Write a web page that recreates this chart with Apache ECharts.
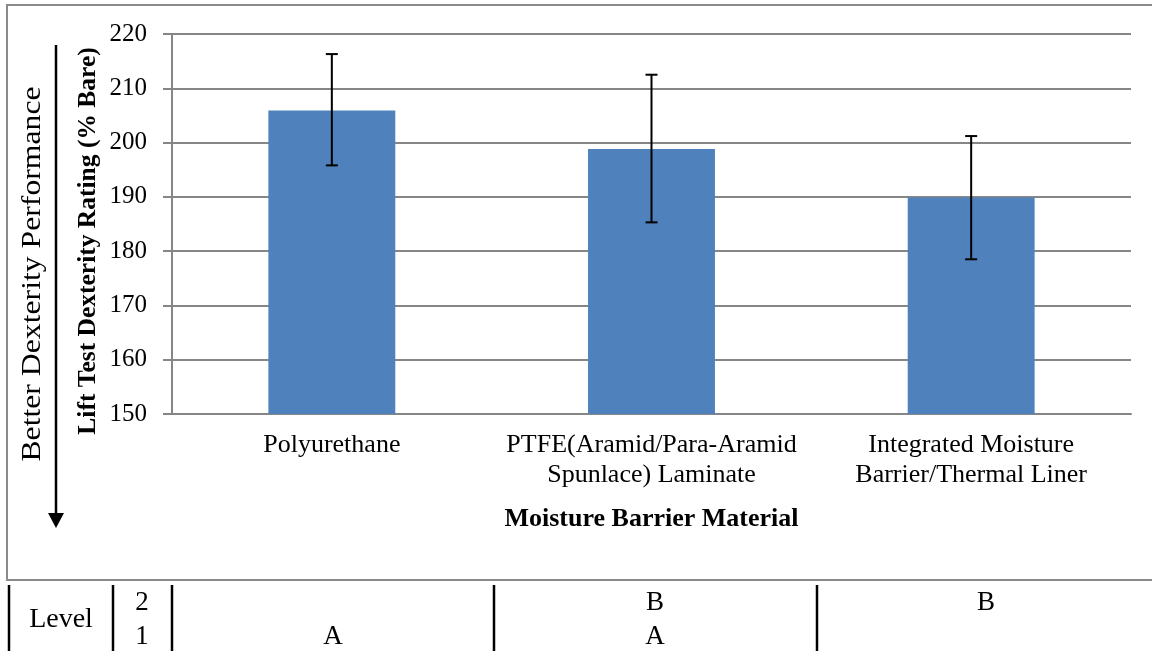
<!DOCTYPE html>
<html>
<head>
<meta charset="utf-8">
<script src="https://cdn.jsdelivr.net/npm/echarts@6/dist/echarts.min.js"></script>
<style>
html,body{margin:0;padding:0;background:#fff;}
#c{width:1152px;height:651px;}
</style>
</head>
<body>
<div id="c"></div>
<script>
const categories = ['Polyurethane', 'PTFE(Aramid/Para-Aramid\nSpunlace) Laminate', 'Integrated Moisture\nBarrier/Thermal Liner'];
const ratings = [205.9, 198.8, 189.9];
const errLow = [195.8, 185.3, 178.5];
const errHigh = [216.3, 212.5, 201.2];
const yTicks = [150, 160, 170, 180, 190, 200, 210, 220];
const levelNames = ['2', '1'];
const level2Letters = ['', 'B', 'B'];
const level1Letters = ['A', 'A', ''];

const FONT = '"Liberation Serif", "Times New Roman", serif';
const chart = echarts.init(document.getElementById('c'));

const colX = [9, 113, 172, 494, 817];
const colCenters = [333, 655, 986];
const tableTop = 585, tableBottom = 660;
const graphics = [];
// outer chart border
graphics.push({type:'rect', shape:{x:7, y:5, width:1160, height:575}, style:{fill:'none', stroke:'#8a8a8a', lineWidth:2}, z:-1});
// table verticals
colX.forEach(x => graphics.push({type:'line', shape:{x1:x, y1:tableTop, x2:x, y2:tableBottom}, style:{stroke:'#000', lineWidth:2.5}}));
const tf = '27px ' + FONT;
graphics.push({type:'text', x:61, y:620, style:{text:'Level', font:'28px ' + FONT, fill:'#000', align:'center', verticalAlign:'middle'}});
graphics.push({type:'text', x:142, y:603, style:{text:levelNames[0], font:tf, fill:'#000', align:'center', verticalAlign:'middle'}});
graphics.push({type:'text', x:142, y:637, style:{text:levelNames[1], font:tf, fill:'#000', align:'center', verticalAlign:'middle'}});
colCenters.forEach((cx, i) => {
  if (level2Letters[i]) graphics.push({type:'text', x:cx, y:603, style:{text:level2Letters[i], font:tf, fill:'#000', align:'center', verticalAlign:'middle'}});
  if (level1Letters[i]) graphics.push({type:'text', x:cx, y:637, style:{text:level1Letters[i], font:tf, fill:'#000', align:'center', verticalAlign:'middle'}});
});
// left side annotation
graphics.push({type:'text', x:33, y:274, rotation:Math.PI/2, scaleX:1.22, scaleY:1.05,
  style:{text:'Better Dexterity Performance', font:'26px ' + FONT, fill:'#000', align:'center', verticalAlign:'middle'}});
graphics.push({type:'line', shape:{x1:56, y1:45, x2:56, y2:516}, style:{stroke:'#000', lineWidth:2.5}});
graphics.push({type:'polygon', shape:{points:[[48,513],[64,513],[56,528]]}, style:{fill:'#000'}});
// y axis title
graphics.push({type:'text', x:88, y:241, rotation:Math.PI/2,
  style:{text:'Lift Test Dexterity Rating (% Bare)', font:'bold 25.5px ' + FONT, fill:'#000', align:'center', verticalAlign:'middle'}});

chart.setOption({
  animation:false,
  backgroundColor:'#fff',
  grid:{left:172, right:21, top:34, bottom:237},
  xAxis:{
    type:'category', data:categories,
    axisLine:{show:true, lineStyle:{color:'#868686', width:2}},
    axisTick:{show:false},
    axisLabel:{color:'#000', fontFamily:FONT, fontSize:26, lineHeight:30, margin:16, interval:0},
    name:'Moisture Barrier Material', nameLocation:'middle', nameGap:92,
    nameTextStyle:{color:'#000', fontFamily:FONT, fontSize:26, fontWeight:'bold'}
  },
  yAxis:{
    type:'value', min:150, max:220, interval:10,
    axisLine:{show:true, lineStyle:{color:'#868686', width:2}},
    axisTick:{show:true, length:9, lineStyle:{color:'#868686', width:2}},
    splitLine:{show:true, lineStyle:{color:'#868686', width:2}},
    axisLabel:{color:'#000', fontFamily:FONT, fontSize:25, margin:25,
      customValues: yTicks}
  },
  graphic: graphics,
  series:[
    {type:'bar', data:ratings, barWidth:'39.7%', itemStyle:{color:'#4F81BD'}, z:2},
    {type:'custom', data:categories.map((c,i)=>[i, errLow[i], errHigh[i]]), z:5,
     renderItem:function(params, api){
       const lo = api.coord([api.value(0), api.value(1)]);
       const hi = api.coord([api.value(0), api.value(2)]);
       const w = 6;
       const st = {stroke:'#000', lineWidth:2};
       return {type:'group', children:[
         {type:'line', shape:{x1:hi[0], y1:hi[1], x2:lo[0], y2:lo[1]}, style:st},
         {type:'line', shape:{x1:hi[0]-w, y1:hi[1], x2:hi[0]+w, y2:hi[1]}, style:st},
         {type:'line', shape:{x1:lo[0]-w, y1:lo[1], x2:lo[0]+w, y2:lo[1]}, style:st}
       ]};
     }}
  ]
});
</script>
</body>
</html>
